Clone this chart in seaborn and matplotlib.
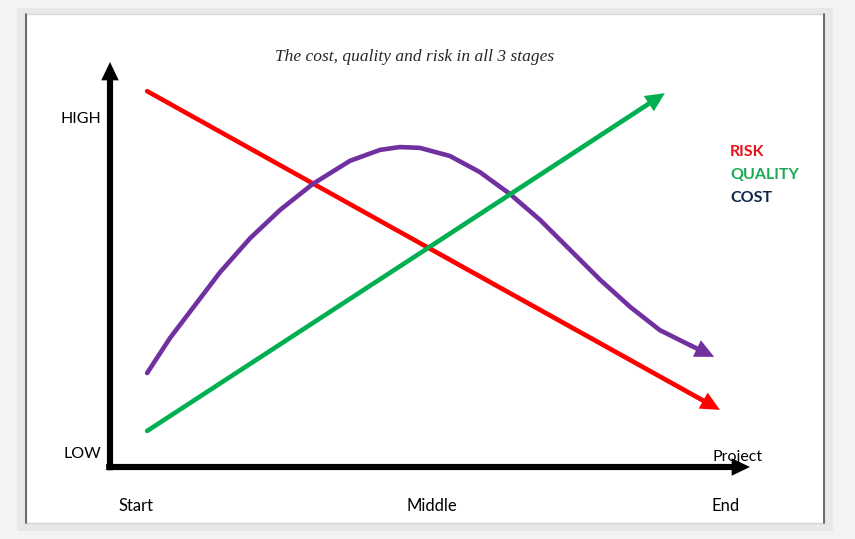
import numpy as np
import pandas as pd
import matplotlib
matplotlib.use("Agg")
import matplotlib.pyplot as plt
import matplotlib.patches as mpatches
import seaborn as sns

# values (x: project progress 0-100, y: level 0-100)
risk_x = [5.8, 50.0, 95.3]
risk_y = [92.8, 53.9, 14.1]
quality_x = [5.8, 50.0, 86.7]
quality_y = [8.9, 54.4, 92.3]
cost_x = [5.8, 9.4, 13.3, 17.2, 21.9, 26.6, 31.7, 37.5, 42.2, 45.3, 48.4, 53.1, 57.8,
          62.5, 67.2, 71.9, 76.6, 81.3, 85.9, 90.6, 94.4]
cost_y = [23.2, 31.9, 40.0, 48.1, 56.5, 63.5, 69.9, 75.6, 78.3, 79.0, 78.8, 76.8, 72.8,
          67.4, 61.0, 53.6, 46.2, 39.5, 33.8, 30.1, 27.2]

stage_ticks = [4.1, 50.3, 96.2]
stage_labels = ["Start", "Middle", "End"]
level_ticks = [86.4, 3.5]
level_labels = ["HIGH", "LOW"]

series_names = ["RISK", "QUALITY", "COST"]
series_colors = {"RISK": "#ff0000", "QUALITY": "#00b050", "COST": "#7030a0"}
legend_colors = {"RISK": "#e8101a", "QUALITY": "#1aaa55", "COST": "#0f2548"}

if __name__ == "__main__":
    sns.set_theme(style="white")
    plt.rcParams["font.family"] = ["Lato", "DejaVu Sans"]

    fig = plt.figure(figsize=(8.55, 5.39), dpi=100)
    fig.patch.set_facecolor("#f3f3f3")
    W, H = 855, 539

    # card shadow + white panel
    fig.patches.append(mpatches.Rectangle((17 / W, 1 - 531 / H), 816 / W, 523 / H,
                                          transform=fig.transFigure, facecolor="#e8e8e8",
                                          edgecolor="none", zorder=0))
    fig.patches.append(mpatches.Rectangle((26 / W, 1 - 523 / H), 798 / W, 509 / H,
                                          transform=fig.transFigure, facecolor="white",
                                          edgecolor="#d6d6d6", lw=1, zorder=1))
    for px in (26, 824):
        fig.lines.append(plt.Line2D([px / W, px / W], [1 - 523 / H, 1 - 14 / H],
                                    transform=fig.transFigure, color="#555555", lw=1.2, zorder=2))

    ax = fig.add_axes([110 / W, 1 - 467 / H, 640 / W, 405 / H])
    ax.set_facecolor("none")
    ax.set_zorder(3)

    df = pd.concat([
        pd.DataFrame({"x": risk_x, "y": risk_y, "series": "RISK"}),
        pd.DataFrame({"x": quality_x, "y": quality_y, "series": "QUALITY"}),
        pd.DataFrame({"x": cost_x, "y": cost_y, "series": "COST"}),
    ])
    # line body: everything except the last segment, which becomes the arrow
    body = df.groupby("series", sort=False, group_keys=False).apply(lambda g: g.iloc[:-1])
    sns.lineplot(data=body, x="x", y="y", hue="series", palette=series_colors, sort=False,
                 estimator=None, lw=3.3, legend=False, ax=ax, solid_capstyle="round",
                 solid_joinstyle="round")

    arrow = "simple,head_length=1.15,head_width=1.1,tail_width=0.28"
    for name in series_names:
        d = df[df["series"] == name]
        xs, ys = d["x"].values, d["y"].values
        ax.annotate("", xy=(xs[-1], ys[-1]), xytext=(xs[-2], ys[-2]),
                    arrowprops=dict(arrowstyle=arrow, color=series_colors[name], lw=0,
                                    shrinkA=0, shrinkB=0, mutation_scale=12))

    ax.set_xlim(0, 100)
    ax.set_ylim(0, 100)
    for s in ax.spines.values():
        s.set_visible(False)

    # axis arrows
    axis_arrow = "simple,head_length=1.1,head_width=1.05,tail_width=0.37"
    ax.annotate("", xy=(0, 1), xytext=(0, -0.008), xycoords="axes fraction",
                arrowprops=dict(arrowstyle=axis_arrow, color="black", lw=0,
                                shrinkA=0, shrinkB=0, mutation_scale=12))
    ax.annotate("", xy=(1, 0), xytext=(-0.006, 0), xycoords="axes fraction",
                arrowprops=dict(arrowstyle=axis_arrow, color="black", lw=0,
                                shrinkA=0, shrinkB=0, mutation_scale=12))

    ax.set_xticks(stage_ticks)
    ax.set_xticklabels(stage_labels, fontsize=12)
    ax.set_yticks(level_ticks)
    ax.set_yticklabels(level_labels, fontsize=11.5)
    ax.tick_params(axis="x", length=0, pad=22, colors="black")
    ax.tick_params(axis="y", length=0, pad=6, colors="black")
    ax.set_xlabel(None)
    ax.set_ylabel(None)

    ax.text(94.1, 2.4, "Project", fontsize=11.5, ha="left", va="center", color="black")

    for i, name in enumerate(series_names):
        ax.text(96.9, 77.8 - i * 5.7, name, fontsize=11.5, fontweight="bold",
                color=legend_colors[name], ha="left", va="center", clip_on=False)

    fig.text(415 / W, 1 - 57 / H, "The cost, quality and risk in all 3 stages",
             family="Liberation Serif", style="italic", fontsize=12.5, ha="center", va="center")

    fig.savefig("out.png", dpi=100, facecolor=fig.get_facecolor())
